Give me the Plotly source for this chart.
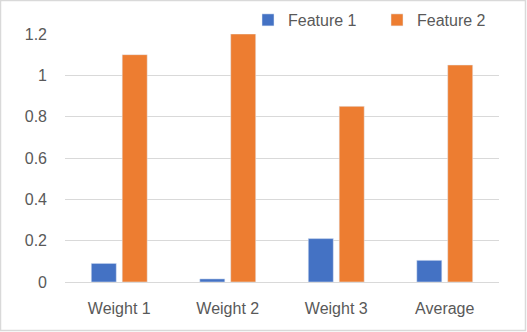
import plotly.graph_objects as go

# Chart data
categories = ["Weight 1", "Weight 2", "Weight 3", "Average"]
feature_1 = [0.09, 0.015, 0.21, 0.105]
feature_2 = [1.1, 1.2, 0.85, 1.05]
y_ticks = [0, 0.2, 0.4, 0.6, 0.8, 1, 1.2]

W, H = 527, 332
ML, MR, MT, MB = 65, 28, 34, 50
PW, PH = W - ML - MR, H - MT - MB

TEXT = "#595959"
GRID = "#d9d9d9"
FONT = "Liberation Sans"
FS = 16

fig = go.Figure()
fig.add_trace(go.Bar(x=categories, y=feature_1, name="Feature 1", marker_color="#4472C4"))
fig.add_trace(go.Bar(x=categories, y=feature_2, name="Feature 2", marker_color="#ED7D31"))

fig.update_layout(
    width=W,
    height=H,
    margin=dict(l=ML, r=MR, t=MT, b=MB, autoexpand=False),
    paper_bgcolor="white",
    plot_bgcolor="white",
    barmode="group",
    bargap=0.43,
    bargroupgap=0.19,
    font=dict(family=FONT, size=FS, color=TEXT),
    legend=dict(
        orientation="h",
        x=(248 - ML) / PW,
        xanchor="left",
        y=1 + (MT - 20) / PH,
        yanchor="middle",
        font=dict(size=FS, color=TEXT),
        entrywidth=84,
        entrywidthmode="pixels",
        bgcolor="rgba(0,0,0,0)",
    ),
    xaxis=dict(
        showgrid=False,
        ticks="",
        showline=False,
        tickfont=dict(size=FS, color=TEXT),
        ticklabelstandoff=15,
    ),
    yaxis=dict(
        range=[0, 1.2],
        tickvals=y_ticks,
        ticktext=[f"{v:g}" for v in y_ticks],
        showgrid=True,
        gridcolor=GRID,
        gridwidth=1,
        zeroline=True,
        zerolinecolor=GRID,
        zerolinewidth=1,
        ticks="",
        showline=False,
        tickfont=dict(size=FS, color=TEXT),
        ticklabelstandoff=17,
    ),
    shapes=[
        dict(
            type="rect",
            xref="paper",
            yref="paper",
            x0=-(ML - 0.5) / PW,
            x1=1 + (MR - 1.5) / PW,
            y0=-(MB - 1.5) / PH,
            y1=1 + (MT - 0.5) / PH,
            line=dict(color=GRID, width=1.5),
            fillcolor="rgba(0,0,0,0)",
            layer="below",
        )
    ],
)

# page body has a default 8px margin; remove it so the chart fills the window
fig.write_html(
    "out.html",
    config={"displayModeBar": False},
    post_script="document.body.style.margin='0';",
)
